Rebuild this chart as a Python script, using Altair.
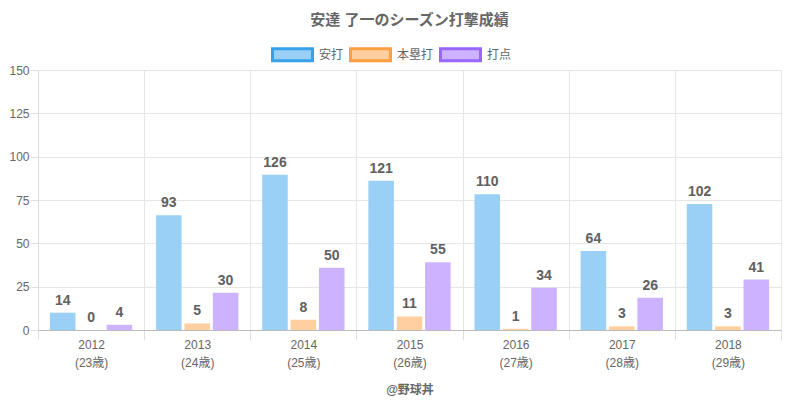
import altair as alt
import pandas as pd

years = ["2012", "2013", "2014", "2015", "2016", "2017", "2018"]
ages = ["23歳", "24歳", "25歳", "26歳", "27歳", "28歳", "29歳"]
series_names = ["安打", "本塁打", "打点"]

# labelled values
hits = [14, 93, 126, 121, 110, 64, 102]
homeruns = [0, 5, 8, 11, 1, 3, 3]
rbis = [4, 30, 50, 55, 34, 26, 41]

# bar heights as drawn in the reference picture
hits_drawn = [10.0, 66.2, 89.6, 86.1, 78.3, 45.6, 72.7]
homeruns_drawn = [0.0, 3.8, 5.9, 7.8, 0.7, 2.1, 2.1]
rbis_drawn = [3.0, 21.5, 35.9, 39.1, 24.4, 18.6, 29.1]

fills = ["#9ad0f5", "#ffcf9f", "#ccb2ff"]
strokes = ["#36a2eb", "#ff9f40", "#9966ff"]

rows = []
for name, vals, drawn in zip(series_names, [hits, homeruns, rbis],
                             [hits_drawn, homeruns_drawn, rbis_drawn]):
    for y, a, v, d in zip(years, ages, vals, drawn):
        rows.append({"cat": f"{y}|({a})", "series": name, "value": v, "h": d})
df = pd.DataFrame(rows)
cats = [f"{y}|({a})" for y, a in zip(years, ages)]

FONT = '"Liberation Sans", "Noto Sans CJK JP", sans-serif'

legend_opts = dict(title=None, orient="none", direction="horizontal",
                   legendX=233, legendY=-37)

base = alt.Chart(df).encode(
    x=alt.X(
        "cat:N", sort=cats,
        scale=alt.Scale(paddingInner=0, paddingOuter=0),
        axis=alt.Axis(
            title="@野球丼", titleFontWeight="bold", titleFontSize=12,
            titleColor="#666", titlePadding=16,
            labelExpr="split(datum.label, '|')", labelAngle=0,
            labelColor="#666", labelFontSize=12, labelPadding=-1,
            labelLineHeight=18,
            tickBand="extent", grid=True, gridColor="#e6e6e6",
            tickColor="#e0e0e0", tickSize=10,
            domainColor="#bbbbbb", labelFont=FONT, titleFont=FONT,
        ),
    ),
    xOffset=alt.XOffset(
        "series:N", sort=series_names,
        scale=alt.Scale(paddingInner=0.1, paddingOuter=0.42),
    ),
)

bars = base.mark_bar(strokeWidth=0).encode(
    y=alt.Y(
        "h:Q",
        scale=alt.Scale(domain=[0, 150], nice=False),
        axis=alt.Axis(
            title=None, values=[0, 25, 50, 75, 100, 125, 150],
            labelColor="#666", labelFontSize=12, labelFont=FONT,
            gridColor="#e6e6e6", tickColor="#e0e0e0", tickSize=8,
            domainColor="#dddddd", labelPadding=1,
        ),
    ),
    fill=alt.Fill(
        "series:N", sort=series_names,
        scale=alt.Scale(domain=series_names, range=fills),
        legend=alt.Legend(**legend_opts),
    ),
    stroke=alt.Stroke(
        "series:N", sort=series_names,
        scale=alt.Scale(domain=series_names, range=strokes),
        legend=alt.Legend(**legend_opts),
    ),
)

labels = base.mark_text(
    baseline="bottom", dy=-5, fontWeight="bold", fontSize=14,
    color="#606060", font=FONT,
).encode(
    y=alt.Y("h:Q"),
    text=alt.Text("value:Q"),
)

chart = alt.layer(bars, labels).properties(
    width=743,
    height=260,
    padding={"left": 0, "top": 5, "right": 5, "bottom": 5},
    title=alt.TitleParams(
        "安達 了一のシーズン打撃成績", fontSize=15, fontWeight="bold",
        color="#666", font=FONT, offset=5, anchor="middle",
    ),
).configure_view(stroke=None).configure_legend(
    symbolType="M-1,-0.3L1,-0.3L1,0.3L-1,0.3Z",
    symbolSize=1600,
    symbolStrokeWidth=3,
    labelFontSize=12,
    labelColor="#666",
    labelFont=FONT,
    labelOffset=5,
    columnPadding=0,
    columns=3,
)

chart.save("out.html", embed_options={"renderer": "svg", "actions": False})
